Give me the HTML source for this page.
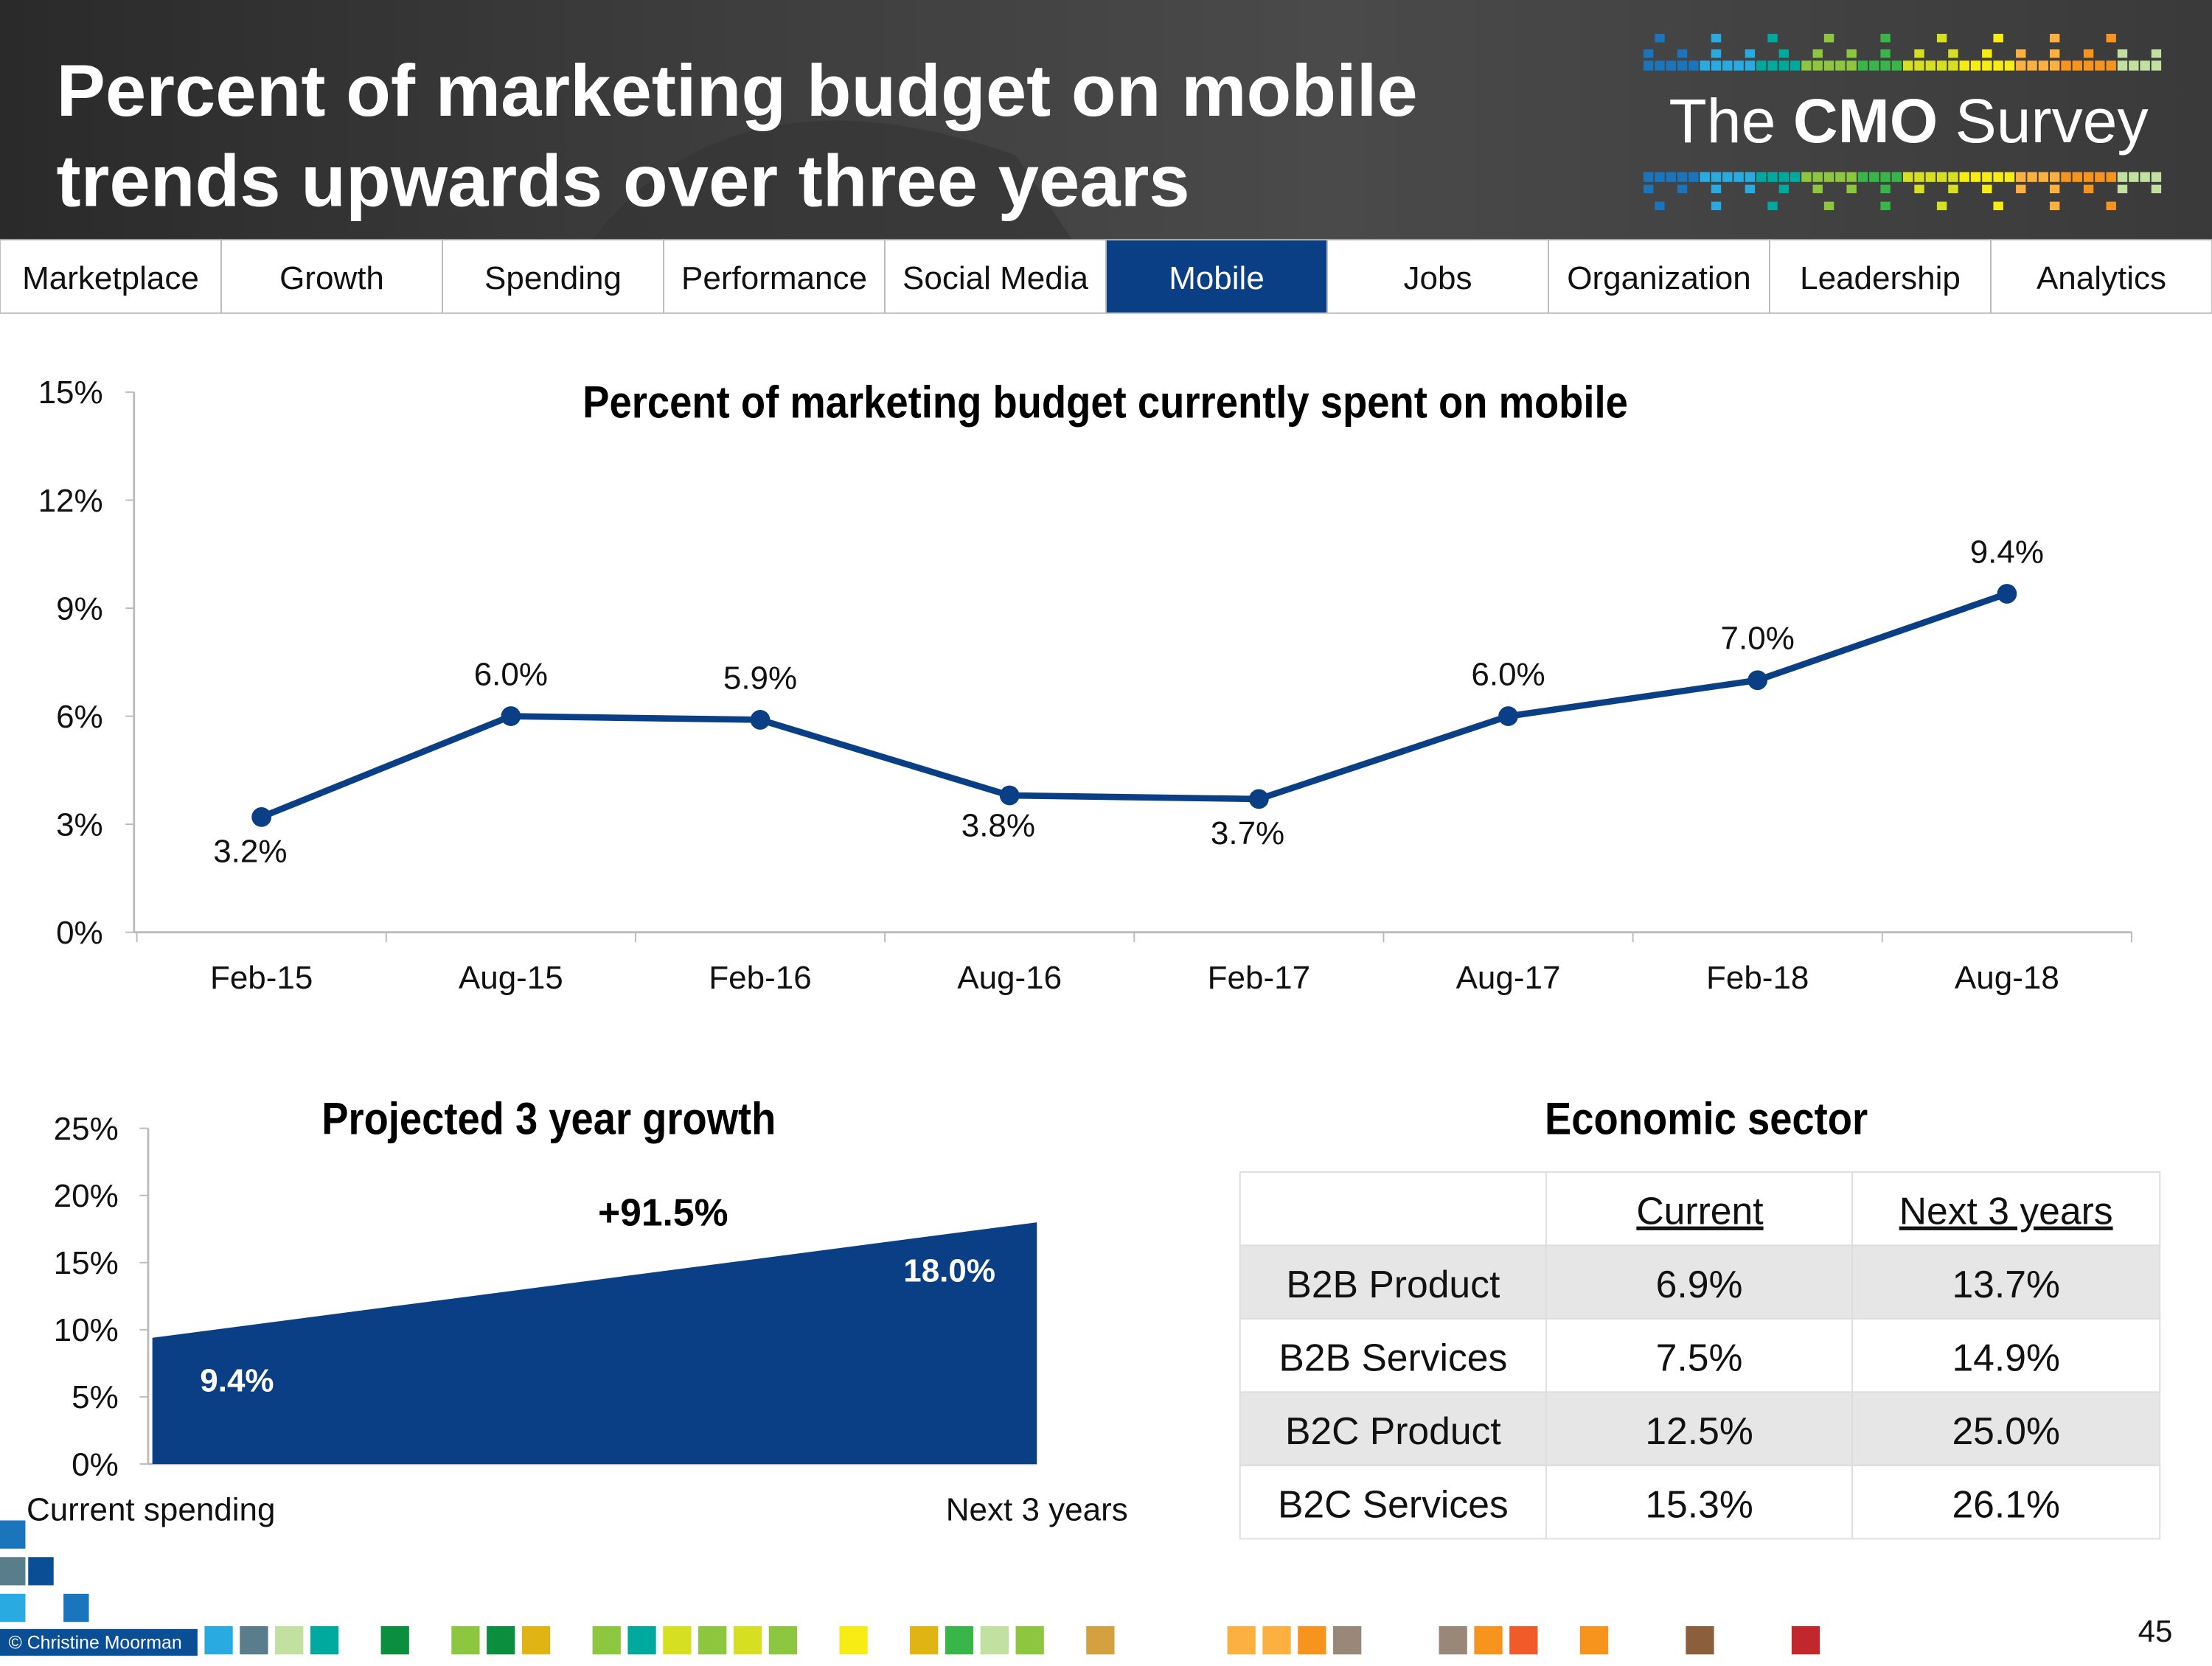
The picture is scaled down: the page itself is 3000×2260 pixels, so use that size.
<!DOCTYPE html>
<html><head><meta charset="utf-8">
<style>
html,body{margin:0;padding:0;width:3000px;height:2250px;overflow:hidden;background:#fff;}
#wrap{position:absolute;left:0;top:0;width:1568px;height:1176px;transform:scale(1.91327);transform-origin:0 0;font-family:"Liberation Sans Narrow","Liberation Sans",sans-serif;}
svg text{font-family:"Liberation Sans Narrow","Liberation Sans",sans-serif;}
</style></head>
<body>
<div id="wrap">
<svg id="s" width="1568" height="1176" viewBox="0 0 1568 1176" xmlns="http://www.w3.org/2000/svg">
<defs>
<linearGradient id="hg" x1="0" y1="0" x2="1" y2="0">
<stop offset="0" stop-color="#2a2a2a"/><stop offset="0.3" stop-color="#3c3c3c"/><stop offset="0.6" stop-color="#4a4a4a"/><stop offset="1" stop-color="#3a3a3a"/></linearGradient>
</defs>
<g>
<rect x="0" y="0" width="1568" height="170" fill="url(#hg)"/>
<path d="M420 170 Q520 40 720 110 L760 170 Z" fill="#333" opacity="0.6"/>
<text x="40" y="82" fill="#fff" font-family="Liberation Sans" font-weight="bold" font-size="52">Percent of marketing budget on mobile</text>
<text x="40" y="146" fill="#fff" font-family="Liberation Sans" font-weight="bold" font-size="52">trends upwards over three years</text>
<text x="1183" y="101" fill="#fff" font-family="Liberation Sans" font-size="44"><tspan font-weight="300">The </tspan><tspan font-weight="bold">CMO</tspan><tspan> Survey</tspan></text>
<g id="pix"></g>
</g>
<g id="nav"></g>
<g id="c1"></g>
<g id="c2"></g>
<g id="tb"></g>
<g id="ft"></g>
</svg>
</div>
<script>
const categories=["Feb-15","Aug-15","Feb-16","Aug-16","Feb-17","Aug-17","Feb-18","Aug-18"];
const values=[3.2,6.0,5.9,3.8,3.7,6.0,7.0,9.4];
const labelPos=["below","above","above","below","below","above","above","above"];
const yTicks=[0,3,6,9,12,15];
const growthCats=["Current spending","Next 3 years"];
const growthVals=[9.4,18.0];
const growthTicks=[0,5,10,15,20,25];
const sectors=["B2B Product","B2B Services","B2C Product","B2C Services"];
const sectorCurrent=[6.9,7.5,12.5,15.3];
const sectorNext=[13.7,14.9,25.0,26.1];
const navItems=["Marketplace","Growth","Spending","Performance","Social Media","Mobile","Jobs","Organization","Leadership","Analytics"];
const NS="http://www.w3.org/2000/svg";
function mk(p,tag,a,txt){const e=document.createElementNS(NS,tag);for(const k in a)e.setAttribute(k,a[k]);if(txt!==undefined)e.textContent=txt;p.appendChild(e);return e;}
const BLUE="#0a3f86";
const pix=document.getElementById('pix');
const pcols=["#1b75bc","#29abe2","#00a99d","#8dc63f","#39b54a","#d7df23","#f7ec13","#fbb040","#f7941d","#c2e0a0","#999"];
for(let i=0;i<46;i++){const x=1165+i*8;const c=pcols[Math.floor(i/46*10)];
 mk(pix,'rect',{x:x,y:43,width:7,height:7,fill:c});
 mk(pix,'rect',{x:x,y:122,width:7,height:7,fill:c});
 if(i%3==0){mk(pix,'rect',{x:x,y:35,width:7,height:6,fill:c});mk(pix,'rect',{x:x,y:131,width:7,height:6,fill:c});}
 if(i%5==1){mk(pix,'rect',{x:x,y:24,width:7,height:6,fill:c});mk(pix,'rect',{x:x,y:143,width:7,height:6,fill:c});}}
const nav=document.getElementById('nav');
const tw=1568/10;
navItems.forEach((t,i)=>{const act=t==="Mobile";
 const r=mk(nav,'rect',{x:i*tw,y:170,width:tw,height:52,fill:act?BLUE:"#fff",stroke:"#bbb","stroke-width":1});
 
 
 const tx=mk(nav,'text',{x:i*tw+tw/2,y:205,"text-anchor":"middle","font-size":23,fill:act?"#fff":"#111"},t);
 
 });
const c1=document.getElementById('c1');
const x0=97,x1=1511,yb=661,yt=278;
const xs=i=>x0+(x1-x0)/categories.length*(i+0.5);
const ys=v=>yb-(v/15)*(yb-yt);
mk(c1,'text',{x:413,y:296,"font-size":32,"font-weight":"bold",fill:"#000",textLength:741,lengthAdjust:"spacingAndGlyphs"},"Percent of marketing budget currently spent on mobile");
mk(c1,'line',{x1:95,y1:yt,x2:95,y2:yb,stroke:"#bbb","stroke-width":1.5});
mk(c1,'line',{x1:95,y1:yb,x2:x1,y2:yb,stroke:"#bbb","stroke-width":1.5});
yTicks.forEach(v=>{mk(c1,'line',{x1:89,y1:ys(v),x2:95,y2:ys(v),stroke:"#bbb"});
 const t=mk(c1,'text',{x:73,y:ys(v)+8,"text-anchor":"end","font-size":23,fill:"#111"},v+"%");
 
 });
for(let i=0;i<=categories.length;i++){const x=x0+(x1-x0)/categories.length*i;mk(c1,'line',{x1:x,y1:yb,x2:x,y2:yb+7,stroke:"#bbb"});}
categories.forEach((c,i)=>{const t=mk(c1,'text',{x:xs(i),y:701,"text-anchor":"middle","font-size":23,fill:"#111"},c);
 
 });
mk(c1,'polyline',{points:values.map((v,i)=>xs(i)+","+ys(v)).join(" "),fill:"none",stroke:BLUE,"stroke-width":4.5});
values.forEach((v,i)=>{const p=mk(c1,'circle',{cx:xs(i),cy:ys(v),r:7,fill:BLUE});
 
 
 const dy=labelPos[i]==="below"?(i==3?29:32):-22;
 const t=mk(c1,'text',{x:xs(i)-8*(labelPos[i]==="below"?1:0),y:ys(v)+dy,"text-anchor":"middle","font-size":23,fill:"#111"},v.toFixed(1)+"%");
 
 });
const c2=document.getElementById('c2');
const gb=1038,gt=800,gx0=108,gx1=735;
const gy=v=>gb-(v/25)*(gb-gt);
mk(c2,'text',{x:228,y:804,"font-size":32,"font-weight":"bold",fill:"#000",textLength:322,lengthAdjust:"spacingAndGlyphs"},"Projected 3 year growth");
mk(c2,'line',{x1:105,y1:gt,x2:105,y2:gb,stroke:"#bbb","stroke-width":1.5});
mk(c2,'line',{x1:105,y1:gb,x2:gx1,y2:gb,stroke:"#bbb","stroke-width":1.5});
growthTicks.forEach(v=>{mk(c2,'line',{x1:99,y1:gy(v),x2:105,y2:gy(v),stroke:"#bbb"});
 const t=mk(c2,'text',{x:84,y:gy(v)+8,"text-anchor":"end","font-size":23,fill:"#111"},v+"%");
 
 });
const ar=mk(c2,'polygon',{points:`${gx0},${gb} ${gx0},${gy(growthVals[0])} ${gx1},${gy(growthVals[1])} ${gx1},${gb}`,fill:BLUE});


mk(c2,'text',{x:168,y:gy(growthVals[0])+38,"text-anchor":"middle","font-size":23,"font-weight":"bold",fill:"#fff"},growthVals[0].toFixed(1)+"%");
mk(c2,'text',{x:673,y:gy(growthVals[1])+42,"text-anchor":"middle","font-size":23,"font-weight":"bold",fill:"#fff"},growthVals[1].toFixed(1)+"%");
const pct=((growthVals[1]/growthVals[0]-1)*100).toFixed(1);
mk(c2,'text',{x:470,y:869,"text-anchor":"middle","font-size":27,"font-weight":"bold",fill:"#000"},"+"+pct+"%");
mk(c2,'text',{x:107,y:1078,"text-anchor":"middle","font-size":23,fill:"#111"},growthCats[0]);
mk(c2,'text',{x:735,y:1078,"text-anchor":"middle","font-size":23,fill:"#111"},growthCats[1]);
const tb=document.getElementById('tb');
mk(tb,'text',{x:1095,y:804,"font-size":32,"font-weight":"bold",fill:"#000",textLength:229,lengthAdjust:"spacingAndGlyphs"},"Economic sector");
const cx=[879,1096,1313,1531],rh=52,ry0=831;
mk(tb,'rect',{x:879,y:ry0,width:652,height:rh,fill:"#fff",stroke:"#ddd"});
[["Current",1205],["Next 3 years",1422]].forEach(h=>{const t=mk(tb,'text',{x:h[1],y:ry0+37,"text-anchor":"middle","font-size":27,fill:"#111","text-decoration":"underline"},h[0]);
 
 });
sectors.forEach((s,i)=>{const y=ry0+rh*(i+1);
 const r=mk(tb,'rect',{x:879,y:y,width:652,height:rh,fill:i%2==0?"#e6e6e6":"#fff",stroke:"#ddd"});
 
 
 [s,sectorCurrent[i].toFixed(1)+"%",sectorNext[i].toFixed(1)+"%"].forEach((v,j)=>{
  const t=mk(tb,'text',{x:(cx[j]+cx[j+1])/2,y:y+37,"text-anchor":"middle","font-size":27,fill:"#111"},v);
  
  });});
[1096,1313].forEach(x=>mk(tb,'line',{x1:x,y1:ry0,x2:x,y2:ry0+rh*5,stroke:"#ddd"}));
const ft=document.getElementById('ft');
[[0,1078,"#1b75bc"],[0,1104,"#5a7d8c"],[20,1104,"#0a4f96"],[0,1130,"#29abe2"],[45,1130,"#1b75bc"]].forEach(a=>mk(ft,'rect',{x:a[0],y:a[1],width:18,height:20,fill:a[2]}));
mk(ft,'rect',{x:0,y:1155,width:140,height:19,fill:"#0a4f96"});
mk(ft,'text',{x:6,y:1169,"font-size":13,fill:"#fff",'font-family':"Liberation Sans"},"© Christine Moorman");
const fsq=[[145,"#29abe2"],[170,"#5a7d8c"],[195,"#c2e0a0"],[220,"#00a99d"],[270,"#0a8f3f"],[320,"#8dc63f"],[345,"#0a8f3f"],[370,"#e0b412"],[420,"#8dc63f"],[445,"#00a99d"],[470,"#d7df23"],[495,"#8dc63f"],[520,"#d7df23"],[545,"#8dc63f"],[595,"#f7ec13"],[645,"#e0b412"],[670,"#39b54a"],[695,"#c2e0a0"],[720,"#8dc63f"],[770,"#d4a040"],[870,"#fbb040"],[895,"#fbb040"],[920,"#f7941d"],[945,"#998877"],[1020,"#998877"],[1045,"#f7941d"],[1070,"#f15a29"],[1120,"#f7941d"],[1195,"#8b5e3c"],[1270,"#c1272d"]];
fsq.forEach(a=>mk(ft,'rect',{x:a[0],y:1153,width:20,height:20,fill:a[1]}));
mk(ft,'text',{x:1540,y:1164,"text-anchor":"end","font-size":22,fill:"#111"},"45");
</script>
</body></html>
